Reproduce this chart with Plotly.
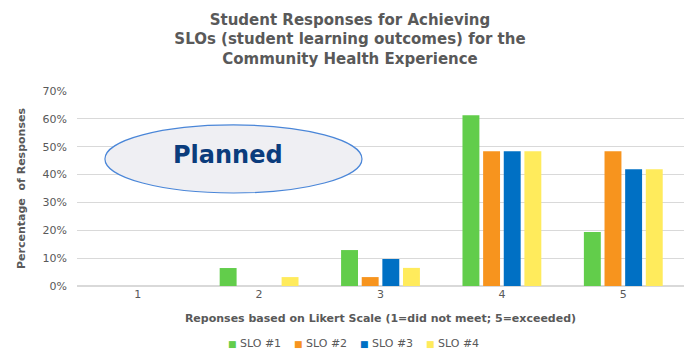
import plotly.graph_objects as go

categories = ["1", "2", "3", "4", "5"]
slo1 = [0, 0.0645, 0.129, 0.613, 0.194]
slo2 = [0, 0, 0.032, 0.484, 0.484]
slo3 = [0, 0, 0.097, 0.484, 0.419]
slo4 = [0, 0.032, 0.065, 0.484, 0.419]
series_names = ["SLO #1", "SLO #2", "SLO #3", "SLO #4"]
colors = ["#62CD4B", "#F7941E", "#0070C4", "#FFEB5C"]
y_ticks = [0, 0.1, 0.2, 0.3, 0.4, 0.5, 0.6, 0.7]

fig = go.Figure()
for name, vals, c in zip(series_names, [slo1, slo2, slo3, slo4], colors):
    fig.add_trace(go.Bar(
        x=categories, y=vals, name=name, showlegend=False,
        marker=dict(color=c, line=dict(width=0)),
    ))

grey = "#595959"
L, R, T, B, W, H = 77, 16, 91, 68, 700, 354
fig.update_layout(
    width=W, height=H,
    margin=dict(l=L, r=R, t=T, b=B, autoexpand=False),
    paper_bgcolor="white", plot_bgcolor="white",
    font=dict(family="DejaVu Sans", color=grey, size=11),
    showlegend=False,
    title=dict(
        text="<b>Student Responses for Achieving<br>SLOs (student learning outcomes) for the<br>Community Health Experience</b>",
        x=0.5, xanchor="center", y=0.93, yanchor="top",
        font=dict(family="DejaVu Sans", size=15, color=grey),
    ),
    barmode="group", bargap=0.32, bargroupgap=0.18,
    xaxis=dict(
        type="category", showgrid=False, zeroline=False, showline=False,
        ticks="", tickfont=dict(size=11, color=grey), automargin=False,
        title=dict(text="<b>Reponses based on Likert Scale (1=did not meet; 5=exceeded)</b>",
                   font=dict(size=11, color=grey), standoff=14),
    ),
    yaxis=dict(
        range=[0, 0.7], tickvals=y_ticks, tickformat=".0%",
        showgrid=True, gridcolor="#D9D9D9", gridwidth=1,
        zeroline=True, zerolinecolor="#D9D9D9", zerolinewidth=2,
        tickfont=dict(size=11, color=grey), ticks="", automargin=False,
        ticklabelstandoff=9,
        title=dict(text="<b>Percentage  of Responses</b>", font=dict(size=11, color=grey), standoff=14),
    ),
)

# custom legend (swatch + label) laid out like the original
legend_left = 226
legend_step = 66
for i, (name, c) in enumerate(zip(series_names, colors)):
    fig.add_annotation(
        xref="paper", yref="paper",
        x=(legend_left + i * legend_step - L) / (W - L - R),
        y=-(343 - (H - B)) / (H - T - B),
        xanchor="left", yanchor="middle", showarrow=False,
        text=f"<span style='color:{c};font-size:9px'>■</span> {name}",
        font=dict(size=11, color=grey),
    )

fig.add_shape(
    type="circle", xref="paper", yref="paper",
    x0=0.046, x1=0.4695, y0=0.477, y1=0.826,
    fillcolor="#EFEFF3", line=dict(color="#4A86D8", width=1.2), layer="above",
)
fig.add_annotation(
    xref="paper", yref="paper", x=0.249, y=0.671, xanchor="center", yanchor="middle",
    text="<b>Planned</b>", showarrow=False,
    font=dict(family="DejaVu Sans", size=24, color="#0B3C7C"),
)

fig.write_html("out.html")
